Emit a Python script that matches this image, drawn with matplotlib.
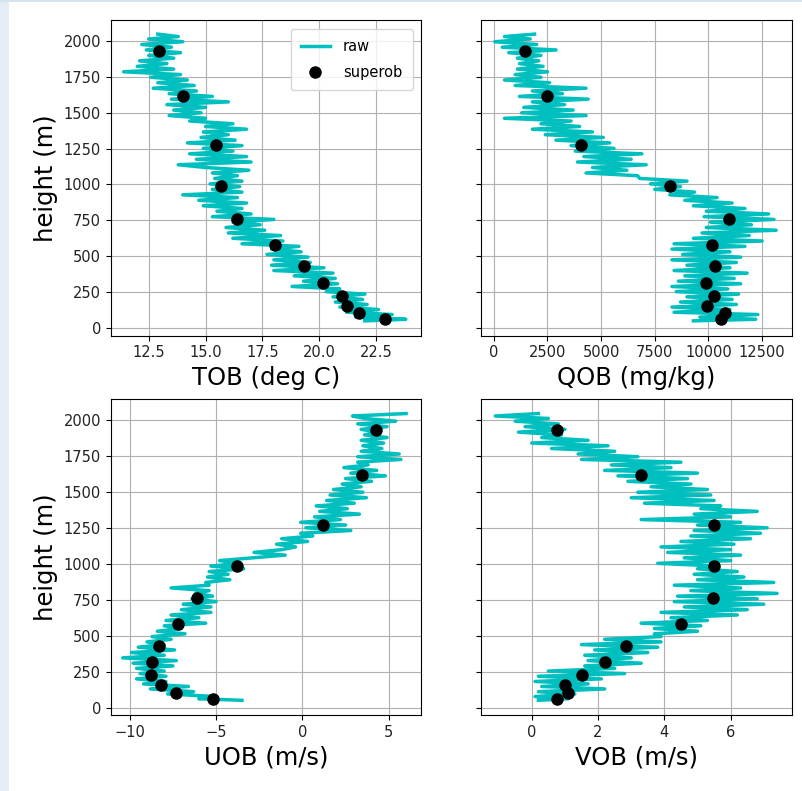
import matplotlib
matplotlib.use("Agg")
import matplotlib.pyplot as plt
from matplotlib.patches import Rectangle

# ---------------- data ----------------
raw_height = [52, 63, 78, 96, 112, 131, 148, 166, 183, 201,
              219, 238, 255, 274, 291, 310, 328, 347, 365, 384,
              402, 421, 439, 458, 476, 495, 514, 532, 551, 570,
              588, 607, 626, 645, 663, 682, 701, 720, 738, 757,
              776, 795, 814, 833, 852, 871, 890, 909, 928, 947,
              966, 985, 1004, 1023, 1042, 1061, 1080, 1099, 1118, 1137,
              1156, 1175, 1194, 1213, 1232, 1251, 1270, 1289, 1308, 1327,
              1346, 1365, 1384, 1403, 1422, 1441, 1460, 1479, 1498, 1517,
              1536, 1555, 1574, 1593, 1612, 1631, 1650, 1669, 1688, 1707,
              1726, 1745, 1764, 1783, 1802, 1821, 1840, 1859, 1878, 1897,
              1916, 1935, 1954, 1973, 1992, 2011, 2028, 2045]

raw_tob = [22.0, 23.8, 21.6, 23.2, 21.2, 22.6, 20.9, 22.1, 20.7, 21.9,
           20.6, 22.0, 20.3, 20.9, 18.8, 20.8, 19.3, 20.7, 18.9, 20.6,
           18.0, 20.2, 17.9, 19.6, 18.0, 19.5, 17.7, 19.2, 17.9, 19.1,
           16.6, 18.4, 16.2, 18.3, 16.0, 17.6, 15.9, 17.4, 16.2, 18.0,
           15.3, 17.0, 15.5, 16.6, 14.9, 16.8, 14.7, 16.4, 14.0, 16.6,
           15.3, 16.5, 15.2, 16.6, 15.4, 16.4, 15.3, 16.9, 15.0, 13.8,
           17.0, 14.6, 16.8, 14.3, 16.2, 14.9, 16.6, 14.2, 16.3, 14.8,
           16.0, 14.9, 16.8, 15.0, 16.2, 14.3, 15.0, 13.4, 14.8, 13.6,
           15.0, 13.3, 16.0, 13.5, 15.3, 13.4, 14.6, 12.7, 14.5, 12.9,
           14.2, 12.6, 13.9, 11.4, 13.6, 12.0, 13.3, 12.1, 13.6, 12.5,
           13.9, 12.4, 13.5, 12.2, 14.0, 12.5, 13.8, 12.9]

raw_qob = [9300, 12200, 9600, 12300, 8400, 11000, 8300, 11300, 8700, 11100,
           9000, 11400, 8500, 10900, 8300, 11500, 8600, 11200, 8900, 11800,
           8400, 11000, 9000, 11300, 8300, 11500, 8800, 11000, 8300, 11700,
           8400, 12500, 9300, 11900, 9700, 13150, 9900, 12000, 10100, 13050,
           9800, 12800, 9900, 11700, 9300, 11100, 8900, 10400, 8200, 9350,
           7500, 8700, 7300, 9000, 6800, 6700, 4300, 6200, 4600, 7100,
           3900, 6400, 4200, 6900, 3800, 5600, 3600, 5400, 2900, 5100,
           2400, 4600, 1800, 4000, 2200, 3600, 500, 4300, 1300, 3700,
           1400, 3300, 1800, 4400, 1200, 3200, 1800, 4300, 1000, 2600,
           500, 2200, 1000, 2500, 1100, 2300, 1200, 2100, 1100, 2200,
           700, 2900, 400, 2000, 50, 1700, 500, 1900]

raw_uob = [-3.5, -6.0, -5.0, -7.8, -6.3, -8.8, -6.6, -9.2, -7.9, -9.6,
           -7.9, -9.4, -8.0, -9.6, -7.5, -9.8, -7.3, -10.4, -8.0, -9.9,
           -7.4, -9.5, -8.0, -9.0, -7.6, -8.7, -6.8, -8.4, -7.0, -8.0,
           -5.6, -7.9, -6.0, -7.6, -5.3, -7.0, -5.3, -6.9, -5.0, -6.4,
           -5.2, -6.2, -5.4, -7.6, -5.4, -5.6, -4.2, -5.5, -4.3, -5.4,
           -3.4, -5.3, -3.6, -4.8, -2.9, -1.0, -2.8, -1.2, -0.4, -1.5,
           0.3, -1.2, 0.6, -0.1, 2.8, 0.2, 2.5, -0.1, 2.2, 0.7,
           3.3, 1.0, 2.6, 0.8, 3.0, 1.4, 3.7, 1.6, 3.5, 1.8,
           3.4, 2.3, 4.0, 2.5, 4.8, 2.8, 4.3, 2.4, 3.8, 3.2,
           5.7, 3.2, 5.6, 3.4, 4.6, 3.5, 4.7, 3.4, 4.9, 3.6,
           4.4, 3.4, 4.9, 3.2, 5.4, 3.6, 2.9, 6.0]

raw_vob = [0.2, 1.1, 0.1, 1.3, 0.2, 2.2, 0.3, 1.7, 0.1, 2.1,
           0.2, 2.8, 0.5, 2.5, 1.6, 3.3, 1.7, 3.0, 1.6, 3.5,
           1.9, 3.8, 1.5, 3.9, 2.2, 3.9, 3.7, 5.0, 3.7, 5.1,
           3.3, 5.3, 4.2, 6.2, 3.9, 6.5, 4.6, 7.0, 4.3, 6.8,
           4.4, 7.4, 4.8, 6.3, 4.3, 7.3, 5.0, 6.4, 4.9, 6.2,
           5.0, 5.6, 3.8, 6.0, 4.6, 6.3, 4.1, 6.0, 3.9, 6.1,
           4.5, 6.6, 4.8, 6.9, 4.9, 7.1, 5.0, 6.3, 3.3, 6.0,
           4.9, 6.8, 5.1, 5.7, 3.4, 5.5, 3.0, 5.4, 3.2, 5.3,
           3.6, 4.8, 2.9, 4.7, 2.6, 5.0, 2.2, 4.2, 2.4, 4.5,
           1.5, 3.2, 1.4, 2.5, 0.6, 2.3, 0.0, 1.7, 0.3, 0.9,
           -0.4, 1.0, -0.2, 0.8, -0.5, 0.5, -1.1, 0.2]

sup_height = [1930, 1616, 1272, 988, 760, 579, 430, 318, 225, 156, 105, 63]
sup_tob = [12.95, 14.01, 15.48, 15.66, 16.39, 18.04, 19.33, 20.18, 20.99, 21.21, 21.76, 22.9]
sup_qob = [1435, 2463, 4066, 8225, 10968, 10187, 10299, 9879, 10253, 9925, 10748, 10594]
sup_uob = [4.28, 3.45, 1.20, -3.78, -6.08, -7.19, -8.31, -8.70, -8.76, -8.16, -7.30, -5.19]
sup_vob = [0.76, 3.31, 5.51, 5.51, 5.48, 4.50, 2.83, 2.22, 1.52, 1.01, 1.09, 0.76]

xlabels = ["TOB (deg C)", "QOB (mg/kg)", "UOB (m/s)", "VOB (m/s)"]
ylabel = "height (m)"

# ---------------- figure ----------------
fig, axes = plt.subplots(2, 2, figsize=(8.02, 7.91), dpi=100, sharey=True)
fig.subplots_adjust(left=0.138, right=0.9875, top=0.9747, bottom=0.0961,
                    wspace=0.1935, hspace=0.2025)

# light screenshot border on the left / top
fig.patches.append(Rectangle((0, 0), 9 / 802, 1, transform=fig.transFigure,
                             facecolor="#e4edf5", edgecolor="none", zorder=-5))
fig.patches.append(Rectangle((0, 1 - 2 / 791), 1, 2 / 791, transform=fig.transFigure,
                             facecolor="#d6e3ee", edgecolor="none", zorder=-5))

raw_series = [raw_tob, raw_qob, raw_uob, raw_vob]
sup_series = [sup_tob, sup_qob, sup_uob, sup_vob]
xlims = [(10.83, 24.48), (-575, 13890), (-11.1, 6.88), (-1.52, 7.85)]
xticks = [[12.5, 15.0, 17.5, 20.0, 22.5],
          [0, 2500, 5000, 7500, 10000, 12500],
          [-10, -5, 0, 5],
          [0, 2, 4, 6]]

for i, ax in enumerate(axes.flat):
    ax.plot(raw_series[i], raw_height, color="c", lw=2.5, label="raw", zorder=2)
    ax.plot(sup_series[i], sup_height, "ko", markersize=8, label="superob", zorder=3)
    ax.set_xlim(*xlims[i])
    ax.set_xticks(xticks[i])
    ax.grid(True, color="#b0b0b0", lw=0.8)
    ax.set_xlabel(xlabels[i], fontsize=17.5)
    ax.tick_params(labelsize=10.5, labelcolor="#222222")
    if i % 2 == 0:
        ax.set_ylabel(ylabel, fontsize=17.5)

axes[0, 0].set_ylim(-50, 2143)
axes[0, 0].set_yticks([0, 250, 500, 750, 1000, 1250, 1500, 1750, 2000])
axes[0, 0].legend(loc="upper right", fontsize=10.5, labelspacing=0.75,
                  borderpad=0.7, handletextpad=0.9, handlelength=2.0,
                  borderaxespad=0.6)

fig.savefig("out.png", dpi=100)
